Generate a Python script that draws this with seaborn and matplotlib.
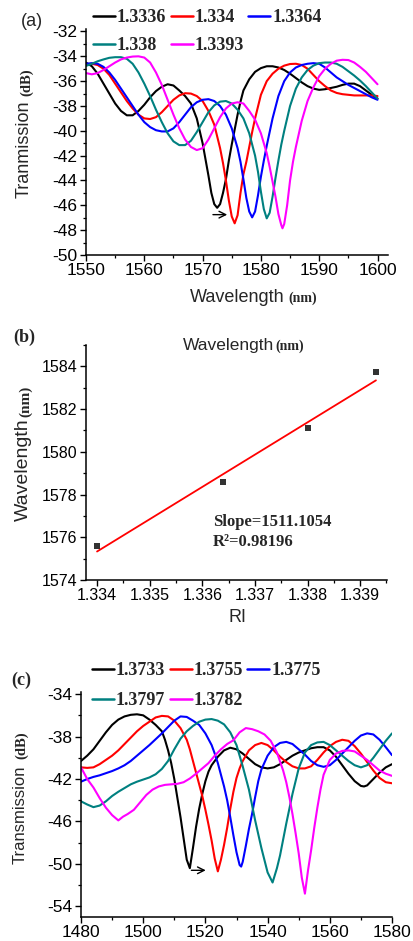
import numpy as np
import pandas as pd
import matplotlib
matplotlib.use("Agg")
import matplotlib.pyplot as plt
from matplotlib.lines import Line2D
from matplotlib.ticker import MultipleLocator, FormatStrFormatter
from matplotlib.font_manager import FontProperties
import seaborn as sns

# ---------------- (a) transmission spectra vs wavelength ----------------
a_labels = ["1.3336", "1.334", "1.3364", "1.338", "1.3393"]
a_colors = ["#000000", "#ff0000", "#0000ff", "#008080", "#ff00ff"]

a_wl_1 = [1550, 1551, 1552, 1553, 1554, 1555, 1556, 1557, 1558, 1559, 1560, 1561, 1562, 1563,
          1564, 1565, 1566, 1567, 1568, 1569, 1570, 1571, 1571.5, 1572, 1572.5, 1573, 1573.5,
          1574, 1574.5, 1575, 1575.5, 1576, 1576.5, 1577, 1578, 1579, 1580, 1581, 1582, 1583,
          1584, 1585, 1586, 1587, 1588, 1589, 1590, 1591, 1592, 1593, 1594, 1595, 1596, 1597,
          1598, 1599, 1600]
a_tr_1 = [-34.5, -34.8, -35.4, -36.2, -37.0, -37.8, -38.4, -38.75, -38.75, -38.4, -37.9, -37.3,
          -36.8, -36.45, -36.25, -36.35, -36.75, -37.2, -37.8, -39.0, -41.0, -43.6, -45.0, -45.9,
          -46.2, -45.9, -45.0, -43.9, -42.4, -41.1, -39.9, -38.7, -37.65, -36.75, -35.85, -35.25,
          -34.95, -34.8, -34.8, -34.9, -35.1, -35.4, -35.75, -36.1, -36.4, -36.6, -36.7, -36.65,
          -36.55, -36.45, -36.3, -36.2, -36.2, -36.4, -36.75, -37.1, -37.4]

a_wl_2 = [1550, 1551, 1552, 1553, 1554, 1555, 1556, 1557, 1558, 1559, 1560, 1561, 1562, 1563,
          1564, 1565, 1566, 1567, 1568, 1569, 1570, 1571, 1572, 1573, 1573.5, 1574, 1574.5, 1575,
          1575.5, 1576, 1576.5, 1577, 1577.5, 1578, 1578.5, 1579, 1580, 1581, 1582, 1583, 1584,
          1585, 1586, 1587, 1588, 1589, 1590, 1591, 1592, 1593, 1594, 1595, 1596, 1597, 1598,
          1599, 1600]
a_tr_2 = [-34.65, -34.6, -34.7, -35.0, -35.5, -36.2, -36.9, -37.6, -38.2, -38.7, -39.0, -39.05,
          -38.9, -38.5, -38.0, -37.5, -37.15, -36.97, -37.0, -37.2, -37.6, -38.4, -39.5, -41.4,
          -42.6, -44.0, -45.6, -46.9, -47.45, -46.8, -45.0, -43.5, -42.5, -41.3, -40.1, -39.0,
          -37.1, -36.0, -35.4, -35.0, -34.75, -34.62, -34.6, -34.7, -35.0, -35.5, -36.0, -36.4,
          -36.75, -36.95, -37.05, -37.1, -37.15, -37.15, -37.15, -37.15, -37.2]

a_wl_3 = [1550, 1551, 1552, 1553, 1554, 1555, 1556, 1557, 1558, 1559, 1560, 1561, 1562, 1563,
          1564, 1565, 1566, 1567, 1568, 1569, 1570, 1571, 1572, 1573, 1574, 1575, 1576, 1576.5,
          1577, 1577.5, 1578, 1578.5, 1579, 1579.5, 1580, 1580.5, 1581, 1581.5, 1582, 1583, 1584,
          1585, 1586, 1587, 1588, 1589, 1590, 1591, 1592, 1593, 1594, 1595, 1596, 1597, 1598,
          1599, 1600]
a_tr_3 = [-34.6, -34.55, -34.6, -34.85, -35.3, -35.9, -36.6, -37.3, -38.0, -38.7, -39.3, -39.7,
          -39.95, -40.05, -40.05, -39.8, -39.3, -38.7, -38.1, -37.7, -37.5, -37.45, -37.6, -38.0,
          -38.7, -39.8, -41.4, -42.5, -43.9, -45.4, -46.5, -46.97, -46.5, -45.2, -43.7, -42.4,
          -41.2, -40.1, -39.0, -37.2, -36.0, -35.3, -34.9, -34.7, -34.6, -34.55, -34.6, -34.9,
          -35.3, -35.7, -36.0, -36.3, -36.55, -36.8, -37.05, -37.3, -37.5]

a_wl_4 = [1550, 1551, 1552, 1553, 1554, 1555, 1556, 1557, 1558, 1559, 1560, 1561, 1562, 1563,
          1564, 1565, 1566, 1567, 1568, 1569, 1570, 1571, 1572, 1573, 1574, 1575, 1576, 1577,
          1578, 1579, 1579.5, 1580, 1580.5, 1581, 1581.5, 1582, 1582.5, 1583, 1583.5, 1584, 1585,
          1586, 1587, 1588, 1589, 1590, 1591, 1592, 1593, 1594, 1595, 1596, 1597, 1598, 1599,
          1600]
a_tr_4 = [-34.77, -34.6, -34.4, -34.25, -34.12, -34.07, -34.07, -34.2, -34.6, -35.3, -36.2, -37.2,
          -38.3, -39.3, -40.2, -40.85, -41.15, -41.15, -40.8, -40.1, -39.3, -38.5, -37.95, -37.65,
          -37.6, -37.8, -38.3, -39.0, -40.2, -42.0, -43.3, -44.9, -46.3, -47.05, -46.6, -45.3,
          -43.8, -42.4, -41.1, -40.0, -38.0, -36.6, -35.7, -35.1, -34.75, -34.55, -34.5, -34.5,
          -34.6, -34.85, -35.2, -35.55, -35.95, -36.4, -36.9, -37.4]

a_wl_5 = [1550, 1551, 1552, 1553, 1554, 1555, 1556, 1557, 1558, 1559, 1560, 1561, 1562, 1563,
          1564, 1565, 1566, 1567, 1568, 1569, 1570, 1571, 1572, 1573, 1574, 1575, 1576, 1577,
          1578, 1579, 1580, 1581, 1581.5, 1582, 1582.5, 1583, 1583.5, 1583.7, 1584, 1584.5, 1585,
          1585.5, 1586, 1587, 1588, 1589, 1590, 1591, 1592, 1593, 1594, 1595, 1596, 1597, 1598,
          1599, 1600]
a_tr_5 = [-35.35, -35.45, -35.35, -35.1, -34.8, -34.5, -34.25, -34.1, -34.02, -34.0, -34.1, -34.5,
          -35.3, -36.3, -37.5, -38.7, -39.8, -40.7, -41.3, -41.55, -41.4, -40.7, -39.8, -38.9,
          -38.2, -37.8, -37.7, -37.8, -38.4, -39.1, -40.2, -41.8, -42.9, -44.1, -45.3, -46.7,
          -47.6, -47.85, -47.5, -46.0, -44.0, -42.5, -41.3, -39.2, -37.6, -36.5, -35.6, -35.0,
          -34.6, -34.35, -34.28, -34.3, -34.5, -34.85, -35.25, -35.75, -36.25]

# ---------------- (b) dip wavelength vs refractive index ----------------
b_ri = [1.334, 1.3364, 1.338, 1.3393]
b_wl = [1575.6, 1578.6, 1581.1, 1583.72]

# ---------------- (c) transmission spectra, second RI range ----------------
c_labels = ["1.3733", "1.3755", "1.3775", "1.3797", "1.3782"]
c_colors = ["#000000", "#ff0000", "#0000ff", "#008080", "#ff00ff"]

c_wl_1 = [1480, 1482, 1484, 1486, 1488, 1490, 1492, 1494, 1496, 1498, 1500, 1502, 1504, 1506,
          1507, 1508, 1509, 1510, 1511, 1512, 1513, 1514, 1515, 1516, 1517, 1518, 1519, 1520,
          1521, 1522, 1524, 1526, 1528, 1530, 1532, 1534, 1536, 1538, 1540, 1542, 1544, 1546,
          1548, 1550, 1552, 1554, 1556, 1558, 1560, 1562, 1564, 1566, 1568, 1570, 1571, 1572,
          1574, 1576, 1578, 1580]
c_tr_1 = [-40.3, -39.8, -39.2, -38.4, -37.6, -36.9, -36.4, -36.1, -35.95, -35.9, -36.0, -36.4,
          -36.9, -37.5, -38.3, -39.3, -40.5, -42.0, -43.8, -45.6, -47.6, -49.6, -50.4, -48.5,
          -46.5, -44.8, -43.4, -42.2, -41.3, -40.7, -39.9, -39.3, -39.05, -39.2, -39.6, -40.1,
          -40.6, -40.9, -41.0, -40.9, -40.6, -40.2, -39.8, -39.5, -39.3, -39.1, -39.0, -39.0,
          -39.3, -39.9, -40.7, -41.5, -42.2, -42.65, -42.7, -42.6, -42.0, -41.4, -40.9, -40.6]

c_wl_2 = [1480, 1482, 1484, 1486, 1488, 1490, 1492, 1494, 1496, 1498, 1500, 1502, 1504, 1506,
          1508, 1510, 1512, 1514, 1515, 1516, 1517, 1518, 1519, 1520, 1521, 1522, 1523, 1524,
          1525, 1526, 1527, 1528, 1529, 1530, 1531, 1532, 1534, 1536, 1538, 1540, 1542, 1544,
          1546, 1548, 1550, 1552, 1554, 1556, 1558, 1560, 1562, 1564, 1566, 1568, 1570, 1572,
          1574, 1576, 1578, 1580]
c_tr_2 = [-40.9, -40.95, -40.9, -40.6, -40.2, -39.8, -39.3, -38.7, -38.1, -37.5, -37.0, -36.6,
          -36.2, -36.05, -36.1, -36.5, -37.2, -38.3, -39.2, -40.3, -41.4, -42.5, -43.6, -44.9,
          -46.3, -47.8, -49.5, -50.7, -49.6, -48.2, -46.6, -44.8, -43.2, -41.9, -41.0, -40.3,
          -39.3, -38.8, -38.6, -38.8, -39.3, -39.9, -40.4, -40.8, -41.0, -41.0, -40.8, -40.2,
          -39.5, -38.9, -38.5, -38.3, -38.4, -38.9, -39.6, -40.4, -41.2, -41.9, -42.3, -42.4]

c_wl_3 = [1480, 1482, 1484, 1486, 1488, 1490, 1492, 1494, 1496, 1498, 1500, 1502, 1504, 1506,
          1508, 1510, 1512, 1514, 1516, 1518, 1520, 1522, 1523, 1524, 1525, 1526, 1527, 1528,
          1529, 1530, 1531, 1531.5, 1532, 1533, 1534, 1535, 1536, 1537, 1538, 1540, 1542, 1544,
          1546, 1548, 1550, 1552, 1554, 1556, 1558, 1560, 1562, 1564, 1566, 1568, 1570, 1572,
          1574, 1576, 1578, 1580]
c_tr_3 = [-42.25, -42.0, -41.8, -41.65, -41.45, -41.25, -41.0, -40.7, -40.3, -39.8, -39.3, -38.8,
          -38.25, -37.7, -37.1, -36.5, -36.1, -36.15, -36.5, -36.9, -37.7, -38.8, -39.6, -40.5,
          -41.6, -42.7, -44.0, -45.6, -47.3, -48.9, -50.1, -50.25, -49.8, -48.3, -46.7, -45.3,
          -43.7, -42.2, -41.1, -39.8, -39.0, -38.6, -38.5, -38.7, -39.2, -39.7, -40.3, -40.7,
          -40.85, -40.7, -40.2, -39.6, -39.0, -38.4, -37.9, -37.7, -37.8, -38.3, -39.0, -39.75]

c_wl_4 = [1480, 1482, 1484, 1486, 1488, 1490, 1492, 1494, 1496, 1498, 1500, 1502, 1504, 1506,
          1508, 1510, 1512, 1514, 1516, 1518, 1520, 1522, 1524, 1526, 1528, 1530, 1532, 1534,
          1536, 1538, 1540, 1541.6, 1543, 1544, 1546, 1548, 1550, 1552, 1554, 1556, 1558, 1560,
          1562, 1564, 1566, 1568, 1570, 1572, 1574, 1576, 1578, 1580]
c_tr_4 = [-44.1, -44.4, -44.65, -44.5, -44.1, -43.6, -43.2, -42.85, -42.5, -42.25, -42.05, -41.85,
          -41.55, -41.05, -40.3, -39.2, -38.2, -37.5, -37.0, -36.6, -36.4, -36.35, -36.5, -36.85,
          -37.6, -38.8, -40.8, -43.0, -45.9, -48.5, -50.8, -51.75, -50.4, -49.2, -46.2, -43.4,
          -41.0, -39.5, -38.8, -38.55, -38.5, -38.8, -39.3, -39.8, -40.3, -40.7, -40.9, -40.7,
          -40.0, -39.2, -38.4, -37.7]

c_wl_5 = [1480, 1482, 1484, 1486, 1488, 1490, 1492, 1493.5, 1495, 1497, 1499, 1501, 1503, 1505,
          1507, 1509, 1511, 1513, 1515, 1517, 1519, 1521, 1523, 1525, 1527, 1529, 1531, 1533,
          1535, 1537, 1539, 1541, 1543, 1545, 1546, 1547, 1548, 1549, 1550, 1551, 1552, 1553,
          1554, 1555, 1556, 1557, 1558, 1560, 1562, 1564, 1566, 1568, 1570, 1572, 1574, 1576,
          1578, 1580]
c_tr_5 = [-40.9, -42.0, -42.8, -43.8, -44.7, -45.4, -45.9, -45.55, -45.3, -44.9, -44.2, -43.5,
          -43.0, -42.7, -42.55, -42.5, -42.45, -42.3, -41.95, -41.5, -41.0, -40.5, -39.8, -39.2,
          -38.7, -38.35, -37.6, -37.2, -37.3, -37.5, -37.8, -38.4, -39.5, -41.2, -42.3, -43.7,
          -45.3, -47.1, -49.0, -51.3, -52.8, -50.6, -48.7, -46.6, -44.7, -43.0, -41.6, -40.2,
          -39.6, -39.35, -39.3, -39.4, -39.8, -40.2, -40.7, -41.2, -41.5, -41.7]

# ---------------- figure setup ----------------
W, H = 413, 941
sns.set_theme(style="ticks")
plt.rcParams["font.family"] = ["Liberation Sans", "DejaVu Sans"]
plt.rcParams["axes.unicode_minus"] = False

SERIF = "Liberation Serif"
SANS = "Liberation Sans"


def fx(px):
    return px / W


def fy(py):
    return 1 - py / H


def long_frame(wls, trs, labels):
    parts = []
    for wl, tr, lab in zip(wls, trs, labels):
        parts.append(pd.DataFrame({"wl": wl, "tr": tr, "ri": lab}))
    return pd.concat(parts, ignore_index=True)


def style_axes(ax, labelsize=12.5):
    sns.despine(ax=ax)
    for side in ("left", "bottom"):
        ax.spines[side].set_linewidth(1.1)
        ax.spines[side].set_color("black")
    ax.tick_params(which="major", direction="out", length=4.5, width=1.0,
                   labelsize=labelsize, pad=1.5, colors="black")
    ax.tick_params(which="minor", direction="out", length=2.5, width=0.9, colors="black")
    ax.set_xlabel("")
    ax.set_ylabel("")
    ax.set_facecolor("white")
    ax.grid(False)


def add_legend(ax, labels, colors, x_px, top_px, spacing):
    handles = [Line2D([0], [0], color=c, lw=1.8) for c in colors]
    order = [0, 3, 1, 4, 2]
    leg = ax.legend([handles[i] for i in order], [labels[i] for i in order],
                    ncol=3, loc="upper left",
                    bbox_to_anchor=(fx(x_px), fy(top_px)),
                    bbox_transform=ax.figure.transFigure,
                    prop=FontProperties(family=SERIF, weight="bold", size=13),
                    frameon=False, borderpad=0, borderaxespad=0,
                    handlelength=1.22, handletextpad=0.1, columnspacing=0.25,
                    labelspacing=spacing)
    return leg


fig = plt.figure(figsize=(W / 100, H / 100), dpi=100)
fig.patch.set_facecolor("white")

# ---- panel (a) ----
ax_a = fig.add_axes([fx(86), fy(255), (388 - 86) / W, (255 - 29) / H])
df_a = long_frame([a_wl_1, a_wl_2, a_wl_3, a_wl_4, a_wl_5],
                  [a_tr_1, a_tr_2, a_tr_3, a_tr_4, a_tr_5], a_labels)
sns.lineplot(data=df_a, x="wl", y="tr", hue="ri", hue_order=a_labels,
             palette=dict(zip(a_labels, a_colors)), estimator=None,
             linewidth=1.5, legend=False, ax=ax_a)
ax_a.set_xlim(1550, 1601.8)
ax_a.set_ylim(-50, -31.8)
ax_a.xaxis.set_major_locator(MultipleLocator(10))
ax_a.xaxis.set_minor_locator(MultipleLocator(5))
ax_a.set_yticks(np.arange(-50, -31, 2))
ax_a.yaxis.set_minor_locator(MultipleLocator(1))
style_axes(ax_a)
ax_a.annotate("", xy=(1574.7, -46.75), xytext=(1571.3, -46.75),
              arrowprops=dict(arrowstyle="->", color="black", lw=1.0))
add_legend(ax_a, a_labels, a_colors, 93, 9, 0.62)

fig.text(fx(32), fy(22), "(a)", family=SANS, fontsize=13, ha="center", va="center")
fig.text(fx(33), fy(149.5), "Tranmission", family=SANS, fontsize=13, rotation=90,
         ha="right", va="center")
fig.text(fx(33), fy(82.5), "(dB)", family=SERIF, weight="bold", fontsize=10.5,
         rotation=90, ha="right", va="center")
fig.text(fx(190), fy(302), "Wavelength", family=SANS, fontsize=13, ha="left",
         va="baseline")
fig.text(fx(288), fy(302), "(nm)", family=SERIF, weight="bold", fontsize=10,
         ha="left", va="baseline")

# ---- panel (b) ----
ax_b = fig.add_axes([fx(86), fy(580), (387 - 86) / W, (580 - 345) / H])
sns.regplot(x=b_ri, y=b_wl, ax=ax_b, ci=None, marker="s", color="black",
            scatter_kws={"s": 22, "zorder": 3, "linewidths": 0},
            line_kws={"color": "#ff0000", "lw": 1.3})
ax_b.set_xlim(1.33379, 1.33951)
ax_b.set_ylim(1574, 1585)
ax_b.xaxis.set_major_locator(MultipleLocator(0.001))
ax_b.xaxis.set_minor_locator(MultipleLocator(0.0005))
ax_b.xaxis.set_major_formatter(FormatStrFormatter("%.3f"))
ax_b.set_yticks(np.arange(1574, 1585, 2))
ax_b.yaxis.set_minor_locator(MultipleLocator(1))
style_axes(ax_b, labelsize=11.5)

fig.text(fx(24), fy(337), "(b)", family=SERIF, weight="bold", fontsize=13,
         ha="center", va="center")
fig.text(fx(183), fy(350), "Wavelength", family=SANS, fontsize=12.5, ha="left",
         va="baseline")
fig.text(fx(275), fy(350), "(nm)", family=SERIF, weight="bold", fontsize=10,
         ha="left", va="baseline")
fig.text(fx(32), fy(470), "Wavelength", family=SANS, fontsize=14, rotation=90,
         ha="right", va="center")
fig.text(fx(32), fy(401), "(nm)", family=SERIF, weight="bold", fontsize=11,
         rotation=90, ha="right", va="center")
fig.text(fx(238), fy(617), "RI", family=SANS, fontsize=13, ha="center", va="center")
fig.text(fx(213), fy(522), "Slope=1511.1054", family=SERIF, weight="bold",
         fontsize=12, ha="left", va="center")
fig.text(fx(213), fy(542), "R²=0.98196", family=SERIF, weight="bold",
         fontsize=12, ha="left", va="center")

# ---- panel (c) ----
ax_c = fig.add_axes([fx(81), fy(917), (392 - 81) / W, (917 - 692) / H])
df_c = long_frame([c_wl_1, c_wl_2, c_wl_3, c_wl_4, c_wl_5],
                  [c_tr_1, c_tr_2, c_tr_3, c_tr_4, c_tr_5], c_labels)
sns.lineplot(data=df_c, x="wl", y="tr", hue="ri", hue_order=c_labels,
             palette=dict(zip(c_labels, c_colors)), estimator=None,
             linewidth=1.5, legend=False, ax=ax_c)
ax_c.set_xlim(1480, 1580)
ax_c.set_ylim(-55, -33.8)
ax_c.xaxis.set_major_locator(MultipleLocator(20))
ax_c.xaxis.set_minor_locator(MultipleLocator(10))
ax_c.set_yticks(np.arange(-54, -33, 4))
ax_c.yaxis.set_minor_locator(MultipleLocator(2))
style_axes(ax_c)
ax_c.annotate("", xy=(1521.0, -50.6), xytext=(1514.6, -50.6),
              arrowprops=dict(arrowstyle="->", color="black", lw=1.0))
add_legend(ax_c, c_labels, c_colors, 92, 662, 0.72)

fig.text(fx(21), fy(680), "(c)", family=SERIF, weight="bold", fontsize=13,
         ha="center", va="center")
fig.text(fx(28), fy(815), "Transmission", family=SANS, fontsize=12, rotation=90,
         ha="right", va="center")
fig.text(fx(28), fy(745), "(dB)", family=SERIF, weight="bold", fontsize=10.5,
         rotation=90, ha="right", va="center")

fig.savefig("out.png", dpi=100, facecolor="white")
